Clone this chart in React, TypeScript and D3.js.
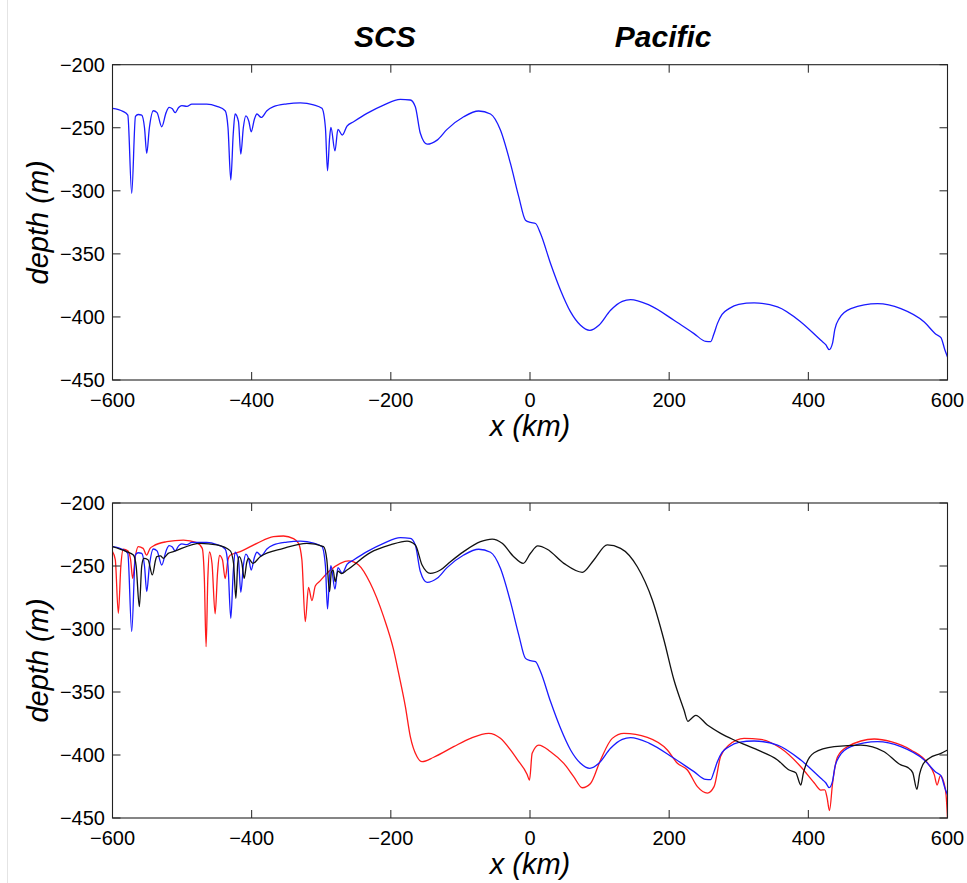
import * as d3 from "d3";

// depth profiles: [x (km), depth (m)]
const blueProfile: [number, number][] = [
  [-600, -234.6], [-585, -237], [-578, -240], [-572.4, -302], [-567, -241], [-563, -239.5],
  [-558, -240], [-554, -250], [-550.8, -270.3], [-547, -250], [-541.3, -236.5], [-536, -238],
  [-529.2, -249.2], [-523, -238], [-518.7, -233.8], [-514, -235], [-510, -238], [-505, -234],
  [-500.4, -232.5], [-493, -233], [-486, -231.2], [-464.5, -231.2], [-450, -233], [-438.1, -236.5],
  [-434, -250], [-430, -291.5], [-426.5, -255], [-423.8, -239.1], [-419, -245], [-415.6, -270.9],
  [-412, -250], [-408.4, -240.5], [-404, -245], [-400.7, -253.2], [-396, -243], [-392.5, -239.1],
  [-386.3, -241.8], [-378.1, -236.5], [-368.6, -233.3], [-349.4, -231], [-330, -230.2],
  [-311, -231.8], [-299, -234.6], [-294, -250], [-291, -284.1], [-288, -258], [-286.1, -249.7],
  [-280.3, -268.3], [-276, -251.3], [-269.8, -255.8], [-263, -248.7], [-253.5, -245.2],
  [-234.3, -238.6], [-210.4, -232], [-186.3, -227.5], [-172, -228], [-164.8, -233.3],
  [-157.6, -254.4], [-147.9, -263], [-133.5, -259.8], [-119.2, -251.3], [-95.3, -241.3],
  [-73.7, -236.7], [-56.8, -239.1], [-42.5, -251.8], [-28.1, -278.3], [-16.1, -304.8],
  [-6.5, -323.3], [0.7, -325.1], [7.9, -325.9], [15.1, -333.8], [29.5, -357.6], [43.9, -378.8],
  [58.3, -396], [72.6, -406.6], [86, -410.6], [99, -406.6], [115.8, -394.7], [132.6, -387.6],
  [144.6, -386.2], [170.9, -390.5], [206.9, -402.6], [235.7, -413.2], [252.5, -419.3],
  [259.7, -419.5], [264, -414], [269.3, -405.3], [276, -398], [286, -393.4], [300, -390],
  [322, -388.9], [355.7, -392.1], [389.2, -404], [418, -418.5], [425, -422], [429.9, -425.9],
  [434.8, -420.7], [438, -410], [444.3, -401.3], [461.1, -393.4], [499.5, -389.4], [533, -393.4],
  [566.6, -404], [583.4, -413.7], [590.6, -416.4], [596.4, -426.4], [600, -431.7],
];

const blackProfile: [number, number][] = [
  [-600, -234.7], [-580, -238.6], [-570, -241.3], [-566, -250], [-561.4, -282.3], [-558, -250],
  [-555, -244], [-549, -245], [-542.7, -257.1], [-538, -245], [-536.4, -242.6], [-531, -242],
  [-526.9, -243.9], [-520, -240], [-512.5, -238.6], [-474.1, -232], [-450.1, -233.3],
  [-431, -237.8], [-426, -248], [-422.7, -275.6], [-420, -248], [-418, -242.6], [-414, -248],
  [-410.8, -259.8], [-407, -247], [-404.6, -243.9], [-398.3, -247.9], [-387.8, -242.6],
  [-354.3, -236], [-320.6, -232], [-296.7, -234.7], [-292, -245], [-288.1, -270.4],
  [-285.5, -255], [-283, -253], [-280, -262.4], [-276, -254], [-271, -256], [-263, -253.2],
  [-229.5, -239.4], [-200.8, -233.3], [-176.7, -230.2], [-164.8, -233.3], [-155.1, -249.2],
  [-143.2, -255.8], [-128.8, -253.2], [-114.4, -246.6], [-95.3, -238.6], [-71.2, -230.7],
  [-54.4, -228.6], [-40, -232], [-23.3, -242.6], [-9.8, -247.9], [0.7, -239.9], [11.2, -234.1],
  [24.7, -236.7], [48.6, -247.9], [75.1, -255], [91.8, -245.2], [111.1, -233.3], [130.2, -236],
  [154.2, -250.6], [175.8, -277], [192.5, -308.7], [206.9, -340.5], [221.3, -364.3],
  [227, -373.3], [232, -371], [238.1, -368.5], [254.9, -376.2], [274, -382.8], [293.2, -388.1],
  [326.9, -396], [355.7, -403.9], [372.4, -411.9], [382, -414], [389.2, -423.8], [393, -414],
  [396.4, -407.9], [408.3, -398.2], [437.1, -393.4], [475.5, -392.1], [509, -397.4],
  [533, -407.9], [542.7, -409.8], [550, -414], [556, -427.2], [560, -415], [564.3, -407.9],
  [573.8, -402.6], [590.6, -398.7], [600, -396],
];

const redProfile: [number, number][] = [
  [-600, -238.6], [-596, -245], [-591.6, -287.5], [-588, -250], [-584.5, -236.7], [-578, -238],
  [-574, -245], [-571, -259.8], [-567, -242], [-563, -234.7], [-556, -236], [-551, -241.3],
  [-546, -236], [-541.3, -234.1], [-522, -230.7], [-498.1, -229.4], [-478.9, -231.5],
  [-471, -236], [-468, -260], [-465.5, -314], [-463, -260], [-460.7, -238.9], [-457, -248],
  [-452.5, -288], [-449, -255], [-446.3, -241.5], [-442, -245], [-438.1, -260], [-434, -245],
  [-431, -241.5], [-416.5, -238.6], [-392.5, -232], [-368.6, -226.7], [-354.3, -226.2],
  [-339.9, -228.3], [-332.7, -232], [-327.8, -245.2], [-323, -294.2], [-318.3, -266.9],
  [-313.4, -277.5], [-308.6, -265.9], [-302, -262], [-289.6, -254.5], [-272.6, -247.9],
  [-260.7, -246], [-246.3, -249.2], [-229.5, -263.7], [-210.4, -290.2], [-196, -316.6],
  [-188.8, -335.1], [-179.1, -361.6], [-172, -385.4], [-162.3, -401.4], [-155.1, -405.3],
  [-138.4, -401.8], [-109.7, -393.4], [-85.6, -386.8], [-59.3, -382.8], [-42.5, -386.8],
  [-28.1, -396], [-18.4, -403.5], [-4.1, -415.4], [-0.7, -419.9], [3.1, -398.7], [12.6, -392.1],
  [29.5, -397.4], [48.6, -406.7], [63, -417.3], [75.1, -426], [87, -422.6], [101.4, -403.9],
  [118.2, -386.8], [135, -382.8], [168.6, -386], [197.4, -396], [211.8, -406.5], [226.2, -411.9],
  [240.6, -425.1], [255, -430.2], [264.5, -425.1], [274, -401], [286, -392.1], [307.6, -386.8],
  [331.6, -387.6], [360.4, -394.7], [389.2, -409.3], [408.3, -422], [418, -427.8],
  [423.7, -427.6], [427, -434], [430.4, -444.1], [434.8, -422.6], [442, -401.4], [456.4, -393.4],
  [494.7, -387.3], [518.7, -389.4], [547.5, -396], [571.5, -406.5], [581.1, -415.8],
  [585, -423.8], [589.8, -416.6], [593.2, -419], [598, -432.1], [600, -450],
];

const xTicks = [-600, -400, -200, 0, 200, 400, 600];
const yTicks = [-450, -400, -350, -300, -250, -200];
const regionLabels = ["SCS", "Pacific"];
const regionX = [-200, 200]; // label centres, km

const width = 967;
const height = 883;
const left = 112.5;
const right = 947.5;
const font = "'Liberation Sans', Arial, Helvetica, sans-serif";
const fmt = (v: number) => (v < 0 ? "\u2212" + Math.abs(v) : String(v));

const x = d3.scaleLinear().domain([-600, 600]).range([left, right]);

type Series = { data: [number, number][]; color: string };

function Panel({ top, bottom, series }: { top: number; bottom: number; series: Series[] }) {
  const y = d3.scaleLinear().domain([-450, -200]).range([bottom, top]);
  const line = d3
    .line<[number, number]>()
    .x((d) => x(d[0]))
    .y((d) => y(d[1]))
    .curve(d3.curveMonotoneX);
  const tk = 8;

  return (
    <g>
      <defs>
        <clipPath id={`clip${top}`}>
          <rect x={left} y={top - 1} width={right - left} height={bottom - top + 2} />
        </clipPath>
      </defs>
      <g clipPath={`url(#clip${top})`}>
        {series.map((s, i) => (
          <path key={i} d={line(s.data) || ""} fill="none" stroke={s.color} strokeWidth={1.3} />
        ))}
      </g>
      <rect x={left} y={top} width={right - left} height={bottom - top} fill="none" stroke="#222" strokeWidth={1.1} />
      {xTicks.map((t) => (
        <g key={"x" + t}>
          <line x1={x(t)} x2={x(t)} y1={bottom} y2={bottom - tk} stroke="#222" />
          <line x1={x(t)} x2={x(t)} y1={top} y2={top + tk} stroke="#222" />
          <text x={x(t)} y={bottom + 27} textAnchor="middle" fontSize={20} fontFamily={font}>
            {fmt(t)}
          </text>
        </g>
      ))}
      {yTicks.map((t) => (
        <g key={"y" + t}>
          <line x1={left} x2={left + tk} y1={y(t)} y2={y(t)} stroke="#222" />
          <line x1={right} x2={right - tk} y1={y(t)} y2={y(t)} stroke="#222" />
          <text x={105} y={y(t)} dy="0.35em" textAnchor="end" fontSize={20} fontFamily={font}>
            {fmt(t)}
          </text>
        </g>
      ))}
      <text
        transform={`translate(48,${(top + bottom) / 2}) rotate(-90)`}
        textAnchor="middle"
        fontSize={29}
        fontStyle="italic"
        fontFamily={font}
      >
        depth (m)
      </text>
      <text x={(left + right) / 2} y={bottom + 56} textAnchor="middle" fontSize={29} fontStyle="italic" fontFamily={font}>
        x (km)
      </text>
    </g>
  );
}

export default function App() {
  return (
    <svg
      width={width}
      height={height}
      style={{ position: "absolute", left: 0, top: 0, background: "#fff" }}
    >
      <rect width={width} height={height} fill="#fff" />
      <line x1={7.5} x2={7.5} y1={0} y2={height} stroke="#e4e4e4" />
      {regionLabels.map((r, i) => (
        <text
          key={r}
          x={x(regionX[i]) - 6}
          y={47}
          textAnchor="middle"
          fontSize={30}
          fontWeight="bold"
          fontStyle="italic"
          fontFamily={font}
        >
          {r}
        </text>
      ))}
      <Panel top={64.7} bottom={380} series={[{ data: blueProfile, color: "#1a1aff" }]} />
      <Panel
        top={503}
        bottom={818}
        series={[
          { data: redProfile, color: "#ff1a1a" },
          { data: blueProfile, color: "#1a1aff" },
          { data: blackProfile, color: "#111" },
        ]}
      />
    </svg>
  );
}
